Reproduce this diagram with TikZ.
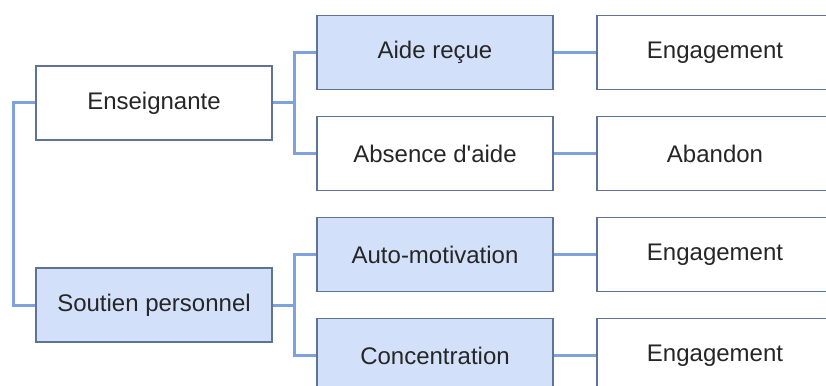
\documentclass[tikz,border=0pt]{standalone}
\usepackage{fontspec}
\setmainfont{Liberation Sans}
\usetikzlibrary{backgrounds}
\definecolor{boxline}{HTML}{5E7396}
\definecolor{boxblue}{HTML}{D3E0FA}
\definecolor{connblue}{HTML}{7FA2DE}
\definecolor{ink}{HTML}{262626}
\tikzset{
  box/.style={draw=boxline, line width=1.6pt, fill=white, minimum width=236pt,
    minimum height=74pt, inner sep=0pt, text=ink, font=\fontsize{24}{28}\selectfont},
  bluebox/.style={box, fill=boxblue},
  conn/.style={draw=connblue, line width=3pt},
}
\begin{document}
\begin{tikzpicture}[x=1pt,y=-1pt]
\useasboundingbox (0,0) rectangle (826,385);
\clip (0,0) rectangle (826,385);

% first level
\node[box]     (ens) at (154,103)   {Enseignante};
\node[bluebox] (sou) at (154,305)   {Soutien personnel};

% second level
\node[bluebox] (aide) at (435,52.5)  {Aide reçue};
\node[box]     (abs)  at (435,153.5) {Absence d\textquotesingle aide};
\node[bluebox] (auto) at (435,254.5) {Auto-motivation};
\node[bluebox] (conc) at (435,355.5) {Concentration};

% outcomes
\node[box] (o1) at (715,52.5)  {Engagement};
\node[box] (o2) at (715,153.5) {Abandon};
\node[box] (o3) at (715,254.5) {Engagement};
\node[box] (o4) at (715,355.5) {Engagement};

% junction points
\coordinate (spine) at (13,204);
\coordinate (j1) at (294,103);
\coordinate (j2) at (294,305);

\begin{scope}[on background layer]
  \draw[conn] (ens.west) -| (spine) |- (sou.west);
  \draw[conn] (ens.east) -- (j1);
  \draw[conn] (aide.west) -| (j1) |- (abs.west);
  \draw[conn] (sou.east) -- (j2);
  \draw[conn] (auto.west) -| (j2) |- (conc.west);
  \draw[conn] (aide.east) -- (o1.west);
  \draw[conn] (abs.east) -- (o2.west);
  \draw[conn] (auto.east) -- (o3.west);
  \draw[conn] (conc.east) -- (o4.west);
\end{scope}
\end{tikzpicture}
\end{document}
